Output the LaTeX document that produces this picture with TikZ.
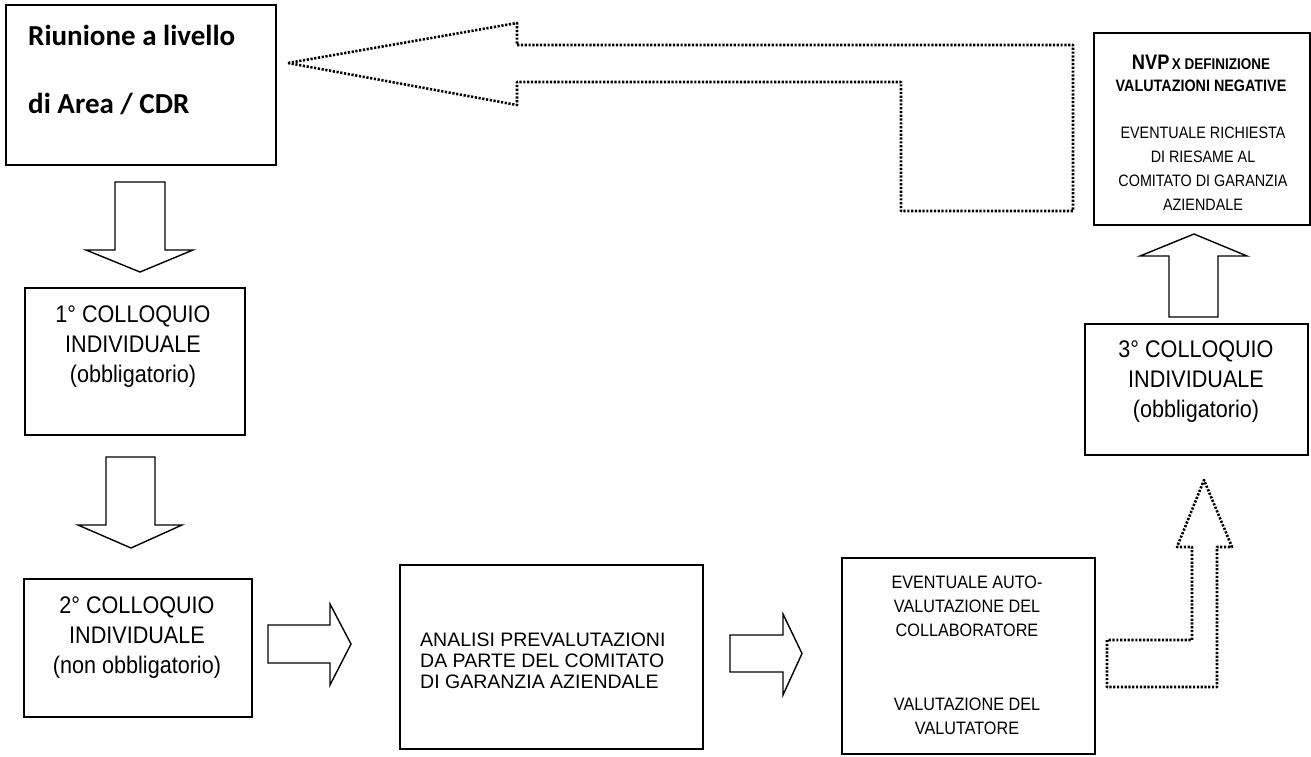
\documentclass[tikz,border=0pt]{standalone}
\usepackage{fontspec}
\setmainfont{Liberation Sans}
\newfontfamily\narrowfont[FakeStretch=0.9]{Liberation Sans}
\newfontfamily\nvpfont[FakeStretch=0.87]{Liberation Sans}
\newfontfamily\calfont{Carlito}
\begin{document}
\begin{tikzpicture}[x=1pt,y=-1pt,
  box/.style={draw=black, line width=1.7pt, minimum width=#1, inner sep=0pt},
  blockarrow/.style={draw=black, line width=1.4pt, line join=miter, fill=white},
  dotarrow/.style={draw=black, line width=2.6pt, dash pattern=on 2.2pt off 1.6pt, line join=round},
  bigtxt/.style={align=center, inner sep=0pt, font=\narrowfont\fontsize{24}{30}\selectfont},
  midtxt/.style={align=center, inner sep=0pt, font=\narrowfont\fontsize{18}{24}\selectfont},
]
\useasboundingbox (0,0) rectangle (1311,756);
\fill[white] (0,0) rectangle (1311,756);

% boxes
\node[box=270pt, minimum height=160pt] (riun) at (141,85) {};
\node[box=216pt, minimum height=192pt] (nvp) at (1202,129) {};
\node[box=220pt, minimum height=147pt] (c1) at (135,361.5) {};
\node[box=223pt, minimum height=131pt] (c3) at (1196.5,389.5) {};
\node[box=228pt, minimum height=138pt] (c2) at (138,648) {};
\node[box=303pt, minimum height=184pt] (an) at (551.5,657) {};
\node[box=253pt, minimum height=196pt] (ev) at (968.5,656) {};

% texts
\node[anchor=base west, inner sep=0pt, font=\calfont\bfseries\fontsize{29}{34}\selectfont] (riunA) at (28,45) {Riunione a livello};
\node[anchor=base west, inner sep=0pt, font=\calfont\bfseries\fontsize{29}{34}\selectfont] (riunB) at (28,113) {di Area / CDR};

\node[inner sep=0pt, font=\nvpfont\bfseries] (nvpA) at (1201,62) {{\fontsize{21}{24}\selectfont NVP} {\fontsize{15.5}{24}\selectfont X DEFINIZIONE}};
\node[inner sep=0pt, font=\nvpfont\bfseries\fontsize{16.5}{24}\selectfont] (nvpB) at (1201,86) {VALUTAZIONI NEGATIVE};
\node[align=center, inner sep=0pt, font=\nvpfont\fontsize{16.5}{24}\selectfont] (nvpC) at (1203,169) {EVENTUALE RICHIESTA\\DI RIESAME AL\\COMITATO DI GARANZIA\\AZIENDALE};

\node[bigtxt] (c1t) at (133,347) {1° COLLOQUIO\\INDIVIDUALE\\(obbligatorio)};
\node[bigtxt] (c2t) at (137,638) {2° COLLOQUIO\\INDIVIDUALE\\(non obbligatorio)};
\node[bigtxt] (c3t) at (1196,382) {3° COLLOQUIO\\INDIVIDUALE\\(obbligatorio)};

\node[anchor=west, align=left, inner sep=0pt, font=\fontsize{19.5}{21}\selectfont] (ant) at (420,661) {ANALISI PREVALUTAZIONI\\DA PARTE DEL COMITATO\\DI GARANZIA AZIENDALE};

\node[midtxt] (evA) at (967,606) {EVENTUALE AUTO-\\VALUTAZIONE DEL\\COLLABORATORE};
\node[midtxt] (evB) at (967,716.5) {VALUTAZIONE DEL\\VALUTATORE};

% solid block arrows
\draw[blockarrow] (115,182) -- (165,182) -- (165,250) -- (193,250) -- (140,272) -- (86,250) -- (115,250) -- cycle;
\draw[blockarrow] (106,457) -- (155,457) -- (155,525) -- (182,525) -- (131,548) -- (78,525) -- (106,525) -- cycle;
\draw[blockarrow] (268,625) -- (330,625) -- (330,604) -- (351,644) -- (330,685) -- (330,663) -- (268,663) -- cycle;
\draw[blockarrow] (730,635) -- (783,635) -- (783,614) -- (802,653.5) -- (783,695) -- (783,672) -- (730,672) -- cycle;
\draw[blockarrow] (1169,317) -- (1169,256) -- (1140,256) -- (1194,234) -- (1247,256) -- (1218,256) -- (1218,317) -- cycle;

% dotted arrows
\draw[dotarrow] (288,63) -- (517,23) -- (517,45) -- (1073,45) -- (1073,211) -- (901,211) -- (901,82) -- (517,82) -- (517,105) -- cycle;
\draw[dotarrow] (1107,640) -- (1107,687) -- (1217,687) -- (1217,547) -- (1232,547) -- (1204,480) -- (1177,547) -- (1192,547) -- (1192,640) -- cycle;
\end{tikzpicture}
\end{document}
